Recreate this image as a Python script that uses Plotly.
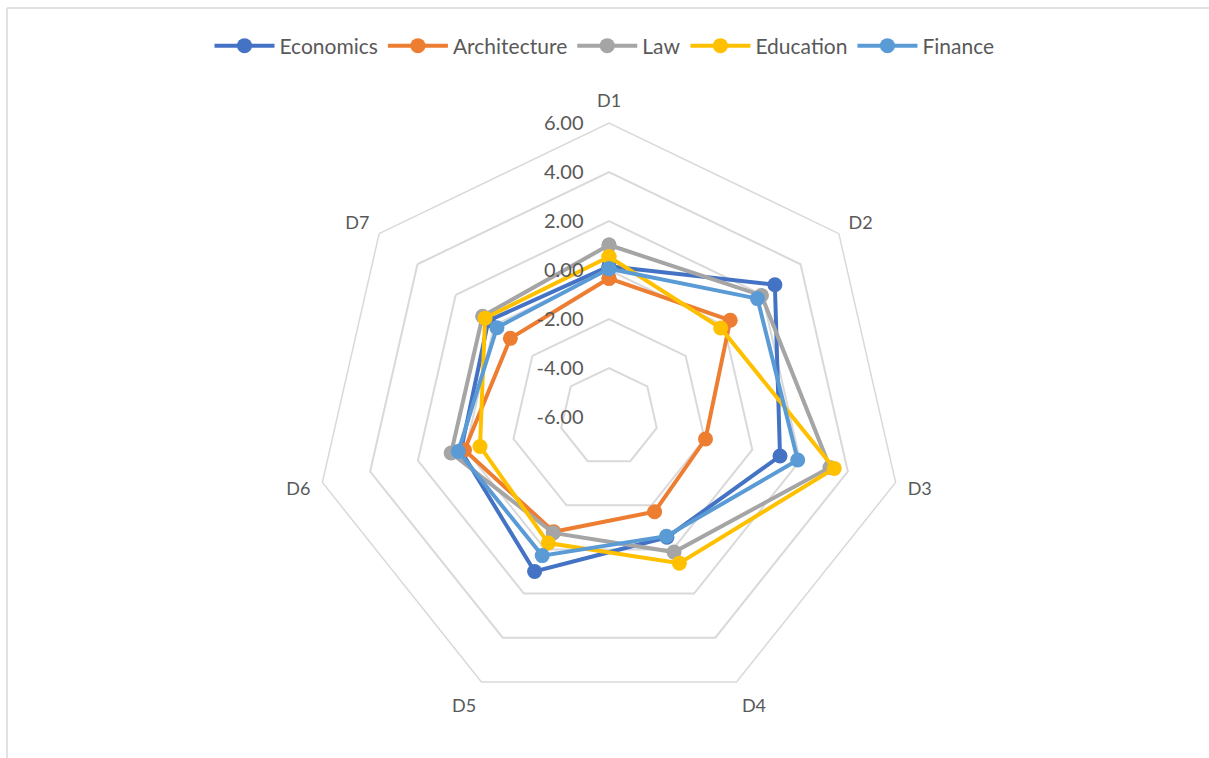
import plotly.graph_objects as go

# Dimension labels around the radar
categories = ["D1", "D2", "D3", "D4", "D5", "D6", "D7"]

# Scores per discipline on each dimension
economics = [0.15, 2.66, 1.16, -0.55, 1.00, 0.20, 0.30]
architecture = [-0.34, 0.33, -1.96, -1.71, -0.80, 0.05, -0.85]
law = [1.02, 1.96, 3.25, 0.12, -0.75, 0.61, 0.60]
education = [0.54, -0.17, 3.43, 0.62, -0.29, -0.60, 0.47]
finance = [0.05, 1.75, 1.90, -0.60, 0.28, 0.31, -0.15]

# Radial scale runs from -6 at the centre to 6 at the rim
axis_min, axis_max = -6, 6
radial_ticks = [-6, -4, -2, 0, 2, 4, 6]

series = [
    ("Economics", economics, "#4472C4"),
    ("Architecture", architecture, "#ED7D31"),
    ("Law", law, "#A5A5A5"),
    ("Education", education, "#FFC000"),
    ("Finance", finance, "#5B9BD5"),
]

W, H = 1209, 758
cx, cy, R = 609, 417, 294

# Plotly hides markers on a polygonal grid when the radial range dips below
# zero, so radii are measured from the axis minimum and the ticks relabelled.
def to_radius(v):
    return v - axis_min

fig = go.Figure()
for name, vals, color in series:
    closed = vals + vals[:1]
    fig.add_trace(go.Scatterpolar(
        r=[to_radius(v) for v in closed],
        theta=categories + categories[:1],
        customdata=closed,
        hovertemplate="%{theta}: %{customdata:.2f}<extra>" + name + "</extra>",
        mode="lines+markers",
        name=name,
        line=dict(color=color, width=4),
        marker=dict(color=color, size=15, symbol="circle"),
    ))

fig.update_layout(
    width=W, height=H,
    margin=dict(l=0, r=0, t=0, b=0),
    paper_bgcolor="white",
    font=dict(family="Lato, 'Open Sans', sans-serif", color="#595959", size=16),
    showlegend=True,
    legend=dict(
        orientation="h",
        x=0.5, xanchor="center",
        y=1 - 46 / H, yanchor="middle",
        font=dict(size=21, color="#595959"),
        itemwidth=60,
        tracegroupgap=0,
    ),
    polar=dict(
        domain=dict(x=[(cx - R) / W, (cx + R) / W],
                    y=[1 - (cy + R) / H, 1 - (cy - R) / H]),
        bgcolor="white",
        gridshape="linear",
        radialaxis=dict(
            range=[0, axis_max - axis_min],
            tickvals=[to_radius(t) for t in radial_ticks],
            ticktext=[f"{t:.2f}" for t in radial_ticks],
            angle=90,
            tickangle=90,
            side="counterclockwise",
            showline=False,
            ticks="outside",
            ticklen=18,
            tickcolor="rgba(0,0,0,0)",
            gridcolor="#D9D9D9",
            gridwidth=1.5,
            tickfont=dict(size=20, color="#595959"),
        ),
        angularaxis=dict(
            direction="clockwise",
            rotation=90,
            showgrid=False,
            showline=True,
            linecolor="#D9D9D9",
            linewidth=1.5,
            ticks="outside",
            ticklen=8,
            tickcolor="rgba(0,0,0,0)",
            tickfont=dict(size=18, color="#595959"),
        ),
    ),
    shapes=[
        dict(type="line", xref="paper", yref="paper",
             x0=7 / W, x1=1, y0=1 - 8 / H, y1=1 - 8 / H,
             line=dict(color="#D9D9D9", width=1.5)),
        dict(type="line", xref="paper", yref="paper",
             x0=7 / W, x1=7 / W, y0=0, y1=1 - 8 / H,
             line=dict(color="#D9D9D9", width=1.5)),
    ],
)

fig.write_html("out.html")
